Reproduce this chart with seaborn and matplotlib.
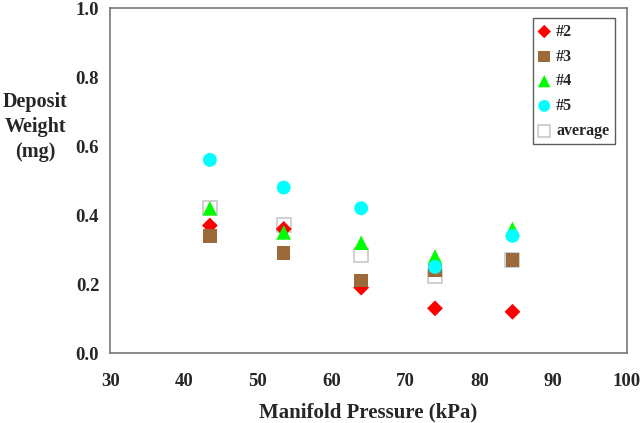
import matplotlib
matplotlib.use("Agg")
import matplotlib.pyplot as plt
import seaborn as sns
import pandas as pd

pressure = [43.5, 53.5, 64, 74, 84.5]
run2 = [0.37, 0.36, 0.19, 0.13, 0.12]
run3 = [0.34, 0.29, 0.21, 0.24, 0.27]
run4 = [0.42, 0.35, 0.32, 0.28, 0.36]
run5 = [0.56, 0.48, 0.42, 0.25, 0.34]
average = [0.42, 0.37, 0.285, 0.225, 0.27]

sns.set_style("white")
plt.rcParams["font.family"] = ["Liberation Serif", "DejaVu Serif"]
plt.rcParams["font.weight"] = "bold"

df = pd.DataFrame({"p": pressure, "#2": run2, "#3": run3, "#4": run4,
                   "#5": run5, "average": average})

fig, ax = plt.subplots(figsize=(6.41, 4.23), dpi=100)
fig.subplots_adjust(left=0.172, right=0.978, top=0.981, bottom=0.165)

# average drawn first so the other markers sit on top of it
sns.scatterplot(data=df, x="p", y="average", ax=ax, marker="s", s=95,
                facecolor="white", edgecolor="#c8c8c8", linewidth=1.2,
                label="average", zorder=2)
styles = [("#2", "D", "#ff0000", 65), ("#3", "s", "#9c6a3a", 95),
          ("#4", "^", "#00ff00", 110), ("#5", "o", "#00ffff", 100)]
for name, mk, col, size in styles:
    sns.scatterplot(data=df, x="p", y=name, ax=ax, marker=mk, s=size,
                    color=col, edgecolor="none", label=name, zorder=3)

ax.set_xlim(30, 100)
ax.set_ylim(0, 1.0)
ax.set_xticks(range(30, 101, 10))
ax.set_yticks([0, 0.2, 0.4, 0.6, 0.8, 1.0])
ax.set_yticklabels(["0.0", "0.2", "0.4", "0.6", "0.8", "1.0"])
ax.tick_params(axis="both", direction="out", length=5, width=1, color="#666666",
               labelsize=13.5, pad=3)
ax.tick_params(axis="x", pad=9)
for sp in ax.spines.values():
    sp.set_color("#777777")
    sp.set_linewidth(1.2)

ax.set_xlabel("Manifold Pressure (kPa)", fontsize=15, fontweight="bold", labelpad=9)
ax.set_ylabel("Deposit\nWeight\n(mg)", fontsize=14.5, fontweight="bold",
              rotation=0, labelpad=0, linespacing=1.35, va="center", ha="center")
ax.yaxis.set_label_coords(-0.145, 0.655)

handles, labels = ax.get_legend_handles_labels()
order = [1, 2, 3, 4, 0]
leg = ax.legend([handles[i] for i in order], [labels[i] for i in order],
                loc="upper right", bbox_to_anchor=(0.983, 0.98), frameon=True,
                fancybox=False, edgecolor="#333333", fontsize=11.5,
                handletextpad=0.4, borderpad=0.35, labelspacing=0.55,
                handlelength=0.7, borderaxespad=0.2, markerscale=0.85)
leg.get_frame().set_linewidth(1.0)

fig.savefig("out.png", dpi=100)
